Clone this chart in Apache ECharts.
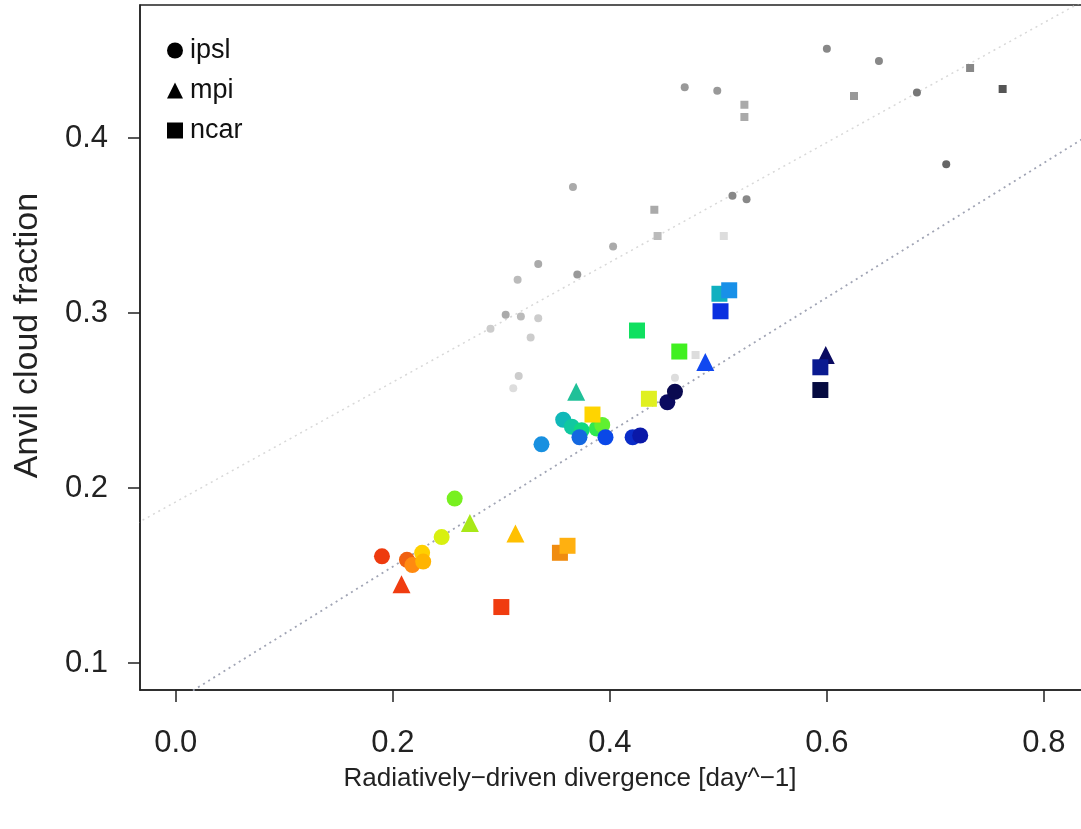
<!DOCTYPE html>
<html>
<head>
<meta charset="utf-8">
<script src="https://cdn.jsdelivr.net/npm/echarts@6/dist/echarts.min.js"></script>
<style>
html,body{margin:0;padding:0;background:#fff;}
#chart{width:1081px;height:829px;}
</style>
</head>
<body>
<div id="chart"></div>
<script>
// ---- data ----
var xTicks = [0.0, 0.2, 0.4, 0.6, 0.8];
var yTicks = [0.1, 0.2, 0.3, 0.4];
var legendNames = ['ipsl', 'mpi', 'ncar'];

// colored ipsl (circles)
var ipslX = [0.190, 0.213, 0.218, 0.227, 0.228, 0.245, 0.257, 0.337, 0.357, 0.365, 0.374, 0.388, 0.393, 0.372, 0.396, 0.421, 0.428, 0.453, 0.460];
var ipslY = [0.161, 0.159, 0.156, 0.163, 0.158, 0.172, 0.194, 0.225, 0.239, 0.235, 0.233, 0.234, 0.236, 0.229, 0.229, 0.229, 0.230, 0.249, 0.255];
var ipslC = ['#ee3a0e', '#f06010', '#ff8a10', '#ffd000', '#ffb400', '#d8f010', '#78f020', '#1890e0', '#10b8b8', '#10c8a0', '#10d880', '#30e850', '#60f030', '#1468e0', '#0a48e8', '#0a2cc8', '#0a18a8', '#0a0a60', '#0a0a50'];

// colored mpi (triangles)
var mpiX = [0.208, 0.271, 0.313, 0.369, 0.488, 0.599];
var mpiY = [0.145, 0.180, 0.174, 0.255, 0.272, 0.276];
var mpiC = ['#f03c10', '#a8e818', '#ffc000', '#20c098', '#1048f0', '#0a0a60'];

// colored ncar (squares)
var ncarX = [0.300, 0.354, 0.361, 0.384, 0.436, 0.425, 0.464, 0.501, 0.510, 0.502, 0.594, 0.594];
var ncarY = [0.132, 0.163, 0.167, 0.242, 0.251, 0.290, 0.278, 0.311, 0.313, 0.301, 0.269, 0.256];
var ncarC = ['#f03c10', '#f08c10', '#ffb010', '#ffd400', '#e0f020', '#10e060', '#40f020', '#10b0c0', '#1890e8', '#0a30e0', '#0a1a90', '#050a40'];

// grey ipsl (small circles)
var gIpslX = [0.600, 0.648, 0.469, 0.499, 0.683, 0.710, 0.366, 0.513, 0.526, 0.403, 0.334, 0.370, 0.315, 0.304, 0.318, 0.334, 0.290, 0.327, 0.316, 0.311, 0.460];
var gIpslY = [0.451, 0.444, 0.429, 0.427, 0.426, 0.385, 0.372, 0.367, 0.365, 0.338, 0.328, 0.322, 0.319, 0.299, 0.298, 0.297, 0.291, 0.286, 0.264, 0.257, 0.263];
var gIpslC = ['#888888', '#888888', '#999999', '#999999', '#777777', '#666666', '#aaaaaa', '#888888', '#888888', '#aaaaaa', '#aaaaaa', '#999999', '#bbbbbb', '#aaaaaa', '#bbbbbb', '#cccccc', '#cccccc', '#cccccc', '#cccccc', '#dddddd', '#dddddd'];

// grey ncar (small squares)
var gNcarX = [0.732, 0.762, 0.625, 0.524, 0.524, 0.441, 0.444, 0.505, 0.479];
var gNcarY = [0.440, 0.428, 0.424, 0.419, 0.412, 0.359, 0.344, 0.344, 0.276];
var gNcarC = ['#888888', '#555555', '#999999', '#aaaaaa', '#aaaaaa', '#aaaaaa', '#bbbbbb', '#dddddd', '#dddddd'];

// fitted lines (endpoints)
var lineX = [-0.05, 0.85];
var upperLineY = [0.175, 0.483];
var lowerLineY = [0.059, 0.405];

// ---- build ----
function pts(xs, ys, cs) {
  return xs.map(function (x, i) {
    return { value: [x, ys[i]], itemStyle: { color: cs[i], opacity: 1 } };
  });
}
function linePts(xs, ys) {
  return xs.map(function (x, i) { return [x, ys[i]]; });
}

var font = 'Liberation Sans, Arial, Helvetica, sans-serif';
var chart = echarts.init(document.getElementById('chart'), null, { renderer: 'canvas' });

var option = {
  animation: false,
  backgroundColor: '#ffffff',
  grid: {
    left: 140, top: 5, width: 950, height: 685,
    outerBoundsMode: 'none', containLabel: false,
    show: true, borderColor: '#222', borderWidth: 1.5, backgroundColor: 'transparent'
  },
  legend: {
    orient: 'vertical',
    left: 162, top: 32,
    itemWidth: 16, itemHeight: 16, itemGap: 13,
    textStyle: { fontFamily: font, fontSize: 27, color: '#111', padding: [0, 0, 0, 2] },
    data: [
      { name: legendNames[0], icon: 'circle', itemStyle: { color: '#000' } },
      { name: legendNames[1], icon: 'triangle', itemStyle: { color: '#000' } },
      { name: legendNames[2], icon: 'rect', itemStyle: { color: '#000' } }
    ]
  },
  xAxis: {
    type: 'value',
    min: -0.033, max: 0.8425,
    name: 'Radiatively\u2212driven divergence [day^\u22121]',
    nameLocation: 'middle', nameGap: 76,
    nameTextStyle: { fontFamily: font, fontSize: 26, color: '#222', padding: [0, 90, 0, 0] },
    axisLine: { show: true, onZero: false, lineStyle: { color: '#222', width: 1.5 } },
    axisTick: { show: true, inside: false, length: 12, customValues: xTicks, lineStyle: { color: '#222', width: 1.5 } },
    axisLabel: { customValues: xTicks, margin: 38, fontFamily: font, fontSize: 31, color: '#222',
      formatter: function (v) { return v.toFixed(1); } },
    splitLine: { show: false }
  },
  yAxis: {
    type: 'value',
    min: 0.0846, max: 0.4760,
    name: 'Anvil cloud fraction',
    nameLocation: 'middle', nameGap: 95, nameRotate: 90,
    nameTextStyle: { fontFamily: font, fontSize: 34, color: '#222', padding: [0, 0, 0, 24] },
    axisLine: { show: true, onZero: false, lineStyle: { color: '#222', width: 1.5 } },
    axisTick: { show: true, inside: false, length: 12, customValues: yTicks, lineStyle: { color: '#222', width: 1.5 } },
    axisLabel: { customValues: yTicks, margin: 32, fontFamily: font, fontSize: 31, color: '#222',
      formatter: function (v) { return v.toFixed(1); } },
    splitLine: { show: false }
  },
  series: [
    { type: 'line', name: 'fitUpper', data: linePts(lineX, upperLineY), symbol: 'none', silent: true, z: 1,
      lineStyle: { color: '#d8d8d8', width: 1.5, type: [2, 4] } },
    { type: 'line', name: 'fitLower', data: linePts(lineX, lowerLineY), symbol: 'none', silent: true, z: 1,
      lineStyle: { color: '#a0a4b4', width: 1.8, type: [2, 4] } },
    { type: 'scatter', name: 'ipsl-grey', data: pts(gIpslX, gIpslY, gIpslC), symbol: 'circle', symbolSize: 8, z: 2 },
    { type: 'scatter', name: 'ncar-grey', data: pts(gNcarX, gNcarY, gNcarC), symbol: 'rect', symbolSize: 8, z: 2 },
    { type: 'scatter', name: legendNames[0], data: pts(ipslX, ipslY, ipslC), symbol: 'circle', symbolSize: 16, itemStyle: { color: '#000', opacity: 1 }, z: 3 },
    { type: 'scatter', name: legendNames[1], data: pts(mpiX, mpiY, mpiC), symbol: 'triangle', symbolSize: 18, itemStyle: { color: '#000', opacity: 1 }, z: 3 },
    { type: 'scatter', name: legendNames[2], data: pts(ncarX, ncarY, ncarC), symbol: 'rect', symbolSize: 16, itemStyle: { color: '#000', opacity: 1 }, z: 3 }
  ]
};
chart.setOption(option);
</script>
</body>
</html>
